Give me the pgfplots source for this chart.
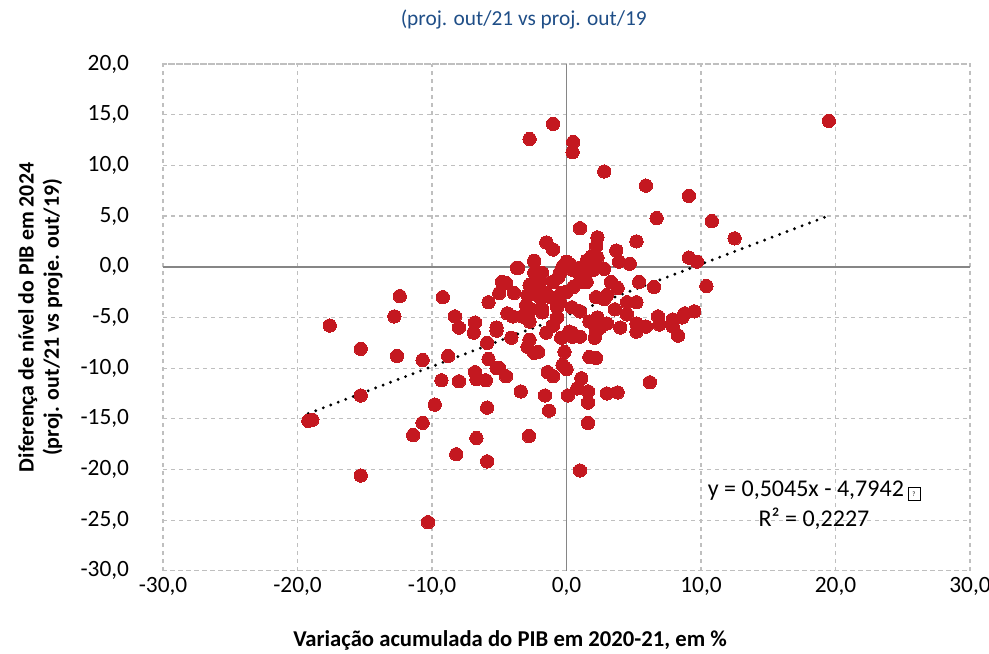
\documentclass[border=0pt]{standalone}
\usepackage{pgfplots}
\pgfplotsset{compat=1.18}
\usepackage{fontspec}
\setmainfont{Carlito}
\definecolor{ptred}{RGB}{196,24,32}
\definecolor{gridgray}{RGB}{191,191,191}
\definecolor{zerogray}{RGB}{134,134,134}
\definecolor{titleblue}{RGB}{31,78,135}

% pontos: variacao acumulada do PIB 2020-21 (x), diferenca de nivel 2024 (y)
\pgfplotstableread{
x y
19.5 14.4
-1.0 14.1
-2.75 12.6
0.5 12.3
0.45 11.3
2.8 9.4
5.9 8.0
9.1 7.0
6.7 4.8
10.8 4.5
12.5 2.8
1.0 3.8
5.2 2.5
9.1 0.9
9.7 0.5
10.4 -1.9
-1.5 2.4
-1.0 1.7
2.3 2.9
2.2 2.0
1.85 1.0
2.3 0.9
3.7 1.6
3.9 0.5
4.7 0.3
2.8 -0.2
1.0 -0.1
0.0 0.5
-2.4 0.6
-3.6 -0.1
-4.6 -1.6
5.4 -1.5
6.5 -2.0
3.3 -1.5
3.8 -2.1
2.2 -3.0
4.5 -3.5
5.2 -3.5
9.5 -4.4
8.8 -4.6
8.6 -5.0
7.9 -5.2
6.8 -4.9
3.6 -4.2
4.5 -4.7
5.2 -5.6
5.9 -5.9
6.9 -5.7
7.9 -5.9
3.0 -5.6
-0.7 -4.0
0.4 -4.0
1.0 -4.4
1.7 -5.4
-1.8 -4.2
-2.6 -4.2
-4.0 -4.9
-1.5 -2.6
-0.4 -2.6
0.0 -2.5
1.0 -1.5
1.5 -1.5
-0.5 -0.6
0.45 -0.3
-1.0 -1.5
-2.4 -0.6
-2.0 -1.5
-2.9 -2.8
-3.9 -2.6
8.3 -6.8
5.2 -6.4
2.2 -6.4
2.1 -7.0
1.0 -6.9
0.4 -6.5
-0.4 -7.0
-0.15 -8.4
-1.5 -6.5
-2.75 -7.2
-2.9 -7.9
-2.4 -8.5
-2.1 -8.4
1.7 -8.9
2.2 -9.0
-0.3 -9.7
0.0 -10.1
-1.4 -10.4
-1.0 -10.8
-4.5 -10.8
-5.0 -10.0
1.1 -11.0
0.8 -12.0
1.6 -12.3
1.6 -13.4
0.1 -12.7
-1.6 -12.7
-1.3 -14.2
-3.4 -12.3
3.0 -12.5
3.8 -12.4
6.2 -11.4
1.6 -15.4
-2.8 -16.7
1.0 -20.1
-4.1 -7.0
-5.2 -6.3
-5.9 -7.5
-6.9 -6.5
-17.6 -5.8
-15.3 -8.1
-12.8 -4.9
-12.4 -2.9
-12.6 -8.8
-10.7 -9.2
-8.8 -8.8
-9.3 -11.2
-8.0 -11.3
-6.8 -10.4
-6.7 -11.1
-6.0 -11.2
-5.8 -9.1
-5.2 -10.0
-5.9 -13.9
-9.8 -13.6
-10.7 -15.4
-11.4 -16.6
-6.7 -16.9
-8.2 -18.5
-5.9 -19.2
-15.3 -20.6
-10.3 -25.2
-19.2 -15.2
-18.9 -15.1
-15.3 -12.7
-9.2 -3.0
-8.3 -4.9
-6.8 -5.5
-8.0 -6.0
-5.8 -3.5
-5.2 -6.0
-5.0 -2.6
-4.5 -1.6
-3.7 -0.1
-2.4 0.5
-2.75 -1.8
-2.0 -3.0
-3.3 -4.9
-2.75 -5.4
-1.8 -4.5
-0.7 -5.0
0.45 -6.9
0.2 -6.4
-1.0 -5.8
-0.5 -3.5
0.5 -2.0
0.8 -0.5
1.2 -1.0
-1.8 -0.6
-3.0 -3.8
-4.4 -4.6
-1.2 -3.0
2.3 -5.0
2.8 -3.2
3.0 -2.8
-0.3 0.0
1.5 0.6
2.5 -6.0
4.0 -6.0
-4.8 -1.5
-2.2 -2.2
-0.6 -1.0
0.3 0.2
2.0 -0.3
}\pontos

\begin{document}
\begin{tikzpicture}
\begin{axis}[
    name=ax,
    scale only axis,
    width=605pt, height=380pt,
    xmin=-30, xmax=30, ymin=-30, ymax=20,
    xtick={-30,-20,...,30},
    ytick={-30,-25,...,20},
    major tick length=0pt,
    grid=major,
    major grid style={gridgray, dashed, line width=0.9pt},
    axis line style={gridgray, dashed, line width=0.9pt},
    extra x ticks={0}, extra y ticks={0},
    extra x tick labels={}, extra y tick labels={},
    extra tick style={major grid style={zerogray, solid, line width=1.2pt}},
    /pgf/number format/.cd, fixed, fixed zerofill, precision=1, use comma, assume math mode=true,
    /pgfplots/.cd,
    tick label style={font=\fontsize{17.5}{19}\selectfont, black},
    yticklabel style={xshift=-22pt},
    xticklabel style={yshift=-1pt},
    title={(proj. out/21 vs proj. out/19},
    title style={at={(0.447,1)}, anchor=center, yshift=27pt,
        font=\fontsize{16}{18}\selectfont, text=titleblue},
    xlabel={Variação acumulada do PIB em 2020-21, em \%},
    xlabel style={at={(0.43,0)}, anchor=center, yshift=-52pt,
        font=\bfseries\fontsize{17}{19}\selectfont},
    ylabel={Diferença de nível do PIB em 2024\\(proj. out/21 vs proje. out/19)},
    ylabel style={at={(-0.152,0.5)}, anchor=center, align=center,
        font=\bfseries\fontsize{16.4}{19}\selectfont},
]
\addplot[only marks, color=ptred, mark=*, mark size=5pt,
    mark options={draw=ptred, fill=ptred, line width=0pt}] table[x=x, y=y] {\pontos};
% linha de tendencia linear
\addplot[black, line width=2.4pt, line cap=round, dash pattern=on 0pt off 6pt]
    coordinates {(-19.2,-14.48) (19.5,5.04)};
\node[align=center, font=\fontsize{18}{22.5}\selectfont] at (axis cs:18.4,-23.5)
    {y = 0,5045x - 4,7942\,\fbox{\tiny ?}\\R² = 0,2227};
\end{axis}
\pgfresetboundingbox
\path ([shift={(-122.25pt,-62.25pt)}]ax.south west) rectangle ([shift={(14.25pt,48pt)}]ax.north east);
\end{tikzpicture}
\end{document}
